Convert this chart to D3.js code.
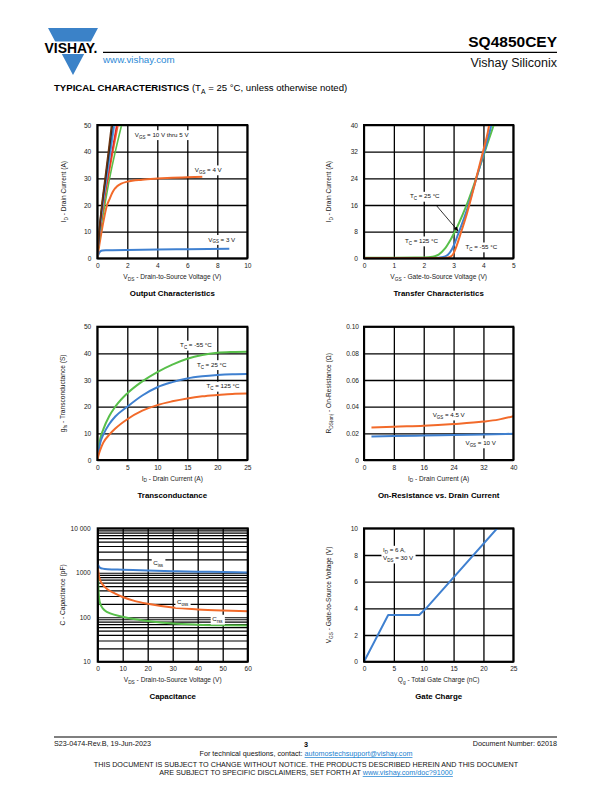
<!DOCTYPE html>
<html><head><meta charset="utf-8">
<script src="https://cdn.jsdelivr.net/npm/d3@7"></script>
<style>
body{margin:0;background:#fff}
svg{display:block}
text{font-family:"Liberation Sans",Arial,Helvetica,sans-serif}
</style>
</head><body>
<svg id="c" width="612" height="792"></svg>
<script>
// ---------------- DATA ----------------
// Output characteristics (VDS [V], ID [A])
const outXTicks=[0,2,4,6,8,10];
const outYTicks=[0,10,20,30,40,50];
const outVgs10=[[0,0],[0.12,10],[0.3,20],[0.52,30],[0.74,40],[0.95,50]];
const outVgs9=[[0,0],[0.13,10],[0.32,20],[0.55,30],[0.78,40],[1.0,50]];
const outVgs8=[[0,0],[0.14,10],[0.35,20],[0.6,30],[0.85,40],[1.1,50]];
const outVgs7=[[0,0],[0.15,10],[0.37,20],[0.62,30],[0.89,40],[1.15,50]];
const outVgs6=[[0,0],[0.17,10],[0.4,20],[0.68,30],[0.98,40],[1.3,50]];
const outVgs55=[[0,0],[0.18,10],[0.42,20],[0.72,30],[1.04,40],[1.38,50]];
const outVgs5=[[0,0],[0.2,10],[0.5,20],[0.82,30],[1.2,40],[1.62,50]];
const outVgs4=[[0,0],[0.15,5.5],[0.3,10.5],[0.45,15],[0.62,19.4],[0.84,22.5],[1.0,24.6],[1.15,26],[1.3,26.9],[1.6,28],[2,28.75],[3,29.5],[4,29.9],[5,30.2],[6,30.4],[7,30.6]];
const outVgs3=[[0,0],[0.05,1],[0.12,2],[0.2,2.6],[0.35,2.9],[0.6,3.0],[1,3.05],[2,3.15],[4,3.3],[6,3.4],[8.8,3.55]];

// Transfer characteristics (VGS [V], ID [A])
const trXTicks=[0,1,2,3,4,5];
const trYTicks=[0,8,16,24,32,40];
const trT125=[[0,0.2],[1,0.2],[2,0.25],[2.3,0.5],[2.5,1.1],[2.7,2.8],[2.9,5.6],[3.1,9],[3.3,13],[3.5,17.5],[3.7,22.5],[3.9,28],[4.1,33.5],[4.3,38.8],[4.36,40.5]];
const trT25=[[0,0.1],[2.4,0.1],[2.6,0.3],[2.8,1],[2.95,2.8],[3.05,4.8],[3.15,7.2],[3.3,10.8],[3.5,16],[3.7,22],[3.9,28.2],[4.1,34.3],[4.28,40.5]];
const trTm55=[[0,0.1],[2.7,0.1],[2.85,0.3],[2.97,1],[3.05,2.5],[3.15,5],[3.25,7.8],[3.4,12],[3.6,18.5],[3.8,25.5],[4.0,32.5],[4.15,38],[4.2,40.5]];

// Transconductance (ID [A], gfs [S])
const gfXTicks=[0,5,10,15,20,25];
const gfYTicks=[0,10,20,30,40,50];
const gfTm55=[[0,0],[0.2,4],[0.5,8],[1,11.5],[2,16.5],[3,20],[5,25],[7.5,29.5],[10,33],[12.5,35.8],[15,38],[17.5,39.4],[20,40.2],[22.5,40.5],[25,40.6]];
const gfT25=[[0,0],[0.2,3],[0.5,6.5],[1,9.5],[2,13.5],[3,16.3],[5,20],[7.5,24.2],[10,27.3],[12.5,29.2],[15,30.6],[17.5,31.4],[20,31.9],[22.5,32.2],[25,32.3]];
const gfT125=[[0,0],[0.3,2.5],[0.7,5],[1,6.5],[2,9.5],[3,11.8],[5,15.3],[7.5,18.5],[10,20.6],[12.5,22],[15,23.1],[17.5,23.9],[20,24.4],[22.5,24.8],[25,24.9]];

// On-resistance (ID [A], RDS(on) [ohm])
const ronXTicks=[0,8,16,24,32,40];
const ronYTicks=[0,0.02,0.04,0.06,0.08,0.10];
const ronYTickLabels=["0","0.02","0.04","0.06","0.08","0.10"];
const ronVgs45=[[2,0.0243],[8,0.025],[16,0.0257],[24,0.027],[32,0.0288],[36,0.0303],[40,0.0328]];
const ronVgs10=[[2,0.0176],[8,0.018],[16,0.0183],[24,0.0187],[32,0.0191],[40,0.0197]];

// Capacitance (VDS [V], C [pF])
const capXTicks=[0,10,20,30,40,50,60];
const capYTicks=[10,100,1000,10000];
const capYTickLabels=["10","100","1000","10 000"];
const capCiss=[[0.1,1550],[0.5,1380],[1,1290],[2,1240],[4,1200],[10,1170],[20,1120],[30,1085],[40,1060],[50,1040],[60,1015]];
const capCoss=[[0.1,1250],[0.5,850],[1,680],[2,540],[4,420],[7,340],[10,285],[15,230],[20,200],[30,165],[40,150],[50,142],[60,137]];
const capCrss=[[0.1,800],[0.4,330],[0.8,220],[1.5,175],[3,140],[5,122],[10,103],[15,90],[20,82],[30,72],[40,68],[50,66],[60,65]];

// Gate charge (Qg [nC], VGS [V])
const qgXTicks=[0,5,10,15,20,25];
const qgYTicks=[0,2,4,6,8,10];
const qgCurve=[[0,0],[4.05,3.5],[9.25,3.5],[10.4,4.0],[22.3,10]];

// ---------------- DRAWING ----------------
const ORANGE="#f26a2a", BLUE="#3f80d0", GREEN="#58bf4a";
const svg=d3.select("#c");

function rich(t,s,fs){
  const parts=s.split(/(\{[^}]*\})/).filter(p=>p);
  let sub=false;
  parts.forEach(p=>{
    if(p[0]==="{"){t.append("tspan").attr("font-size",fs*0.72).attr("dy",fs*0.3).text(p.slice(1,-1));sub=true;}
    else{const ts=t.append("tspan").text(p);if(sub){ts.attr("dy",-fs*0.3);sub=false;}}
  });
  return t;
}

let clipId=0;
function chart(o){
  const g=svg.append("g");
  const x=d3.scaleLinear().domain(o.xDomain).range([o.l,o.r]);
  const y=(o.log?d3.scaleLog():d3.scaleLinear()).domain(o.yDomain).range([o.b,o.t]);
  const h=o.b-o.t, w=o.r-o.l;
  // grid
  g.append("g").attr("transform",`translate(0,${o.b})`)
    .call(d3.axisBottom(x).tickValues(o.xTicks).tickSize(-h).tickFormat(""))
    .call(s=>{s.select(".domain").remove();s.selectAll("line").attr("stroke","#000").attr("stroke-width",1.3);});
  g.append("g").attr("transform",`translate(${o.l},0)`)
    .call(d3.axisLeft(y).tickValues(o.yGrid||o.yTicks).tickSize(-w).tickFormat(""))
    .call(s=>{s.select(".domain").remove();s.selectAll("line").attr("stroke","#000").attr("stroke-width",o.log?1.2:1.3);});
  // curves
  const id="clip"+(clipId++);
  g.append("clipPath").attr("id",id).append("rect").attr("x",o.l).attr("y",o.t).attr("width",w).attr("height",h);
  const line=d3.line().x(d=>x(d[0])).y(d=>y(d[1])).curve(o.linear?d3.curveLinear:d3.curveMonotoneX);
  const cg=g.append("g").attr("clip-path",`url(#${id})`);
  o.series.forEach(s=>{
    cg.append("path").datum(s.data).attr("d",line).attr("fill","none")
      .attr("stroke",s.color).attr("stroke-width",s.width||2).attr("stroke-linejoin","round");
  });
  // border
  g.append("rect").attr("x",o.l).attr("y",o.t).attr("width",w).attr("height",h)
    .attr("fill","none").attr("stroke","#000").attr("stroke-width",2);
  // tick labels
  const fs=6.6;
  g.append("g").attr("transform",`translate(0,${o.b})`)
    .call(d3.axisBottom(x).tickValues(o.xTicks).tickSize(0).tickPadding(5).tickFormat((d,i)=>o.xTickLabels?o.xTickLabels[i]:d))
    .call(s=>{s.select(".domain").remove();s.selectAll("text").attr("font-size",fs).attr("font-family","Liberation Sans, Arial, sans-serif").attr("fill","#222");});
  g.append("g").attr("transform",`translate(${o.l},0)`)
    .call(d3.axisLeft(y).tickValues(o.yTicks).tickSize(0).tickPadding(o.yPad||6).tickFormat((d,i)=>o.yTickLabels?o.yTickLabels[i]:d))
    .call(s=>{s.select(".domain").remove();s.selectAll("text").attr("font-size",fs).attr("font-family","Liberation Sans, Arial, sans-serif").attr("fill","#222");});
  // axis titles
  rich(g.append("text").attr("x",(o.l+o.r)/2).attr("y",o.b+20.5).attr("text-anchor","middle").attr("font-size",6.6).attr("fill","#222"),o.xLabel,6.6);
  rich(g.append("text").attr("transform",`translate(${o.l-o.yLabelOff},${(o.t+o.b)/2}) rotate(-90)`).attr("text-anchor","middle").attr("font-size",6.6).attr("fill","#222"),o.yLabel,6.6);
  g.append("text").attr("x",(o.l+o.r)/2).attr("y",o.b+37.5).attr("text-anchor","middle")
    .attr("font-size",7.9).attr("font-weight","bold").attr("fill","#000").text(o.title);
  // annotations
  (o.notes||[]).forEach(n=>{
    const t=g.append("text").attr("x",x(n.x)).attr("y",y(n.y)).attr("font-size",6.2).attr("fill","#111");
    rich(t,n.text,6.2);
    if(n.bg!==false){
      const bb=t.node().getBBox();
      g.insert("rect",()=>t.node()).attr("x",bb.x-1.5).attr("y",bb.y-0.5).attr("width",bb.width+3).attr("height",bb.height+1).attr("fill","#fff");
    }
  });
  (o.arrows||[]).forEach(a=>{
    g.append("line").attr("x1",x(a.x1)).attr("y1",y(a.y1)).attr("x2",x(a.x2)).attr("y2",y(a.y2))
      .attr("stroke","#000").attr("stroke-width",0.8).attr("marker-end","url(#arr)");
  });
  return {x,y};
}

svg.append("defs").append("marker").attr("id","arr").attr("viewBox","0 0 10 10").attr("refX",9).attr("refY",5)
  .attr("markerWidth",6).attr("markerHeight",6).attr("orient","auto")
  .append("path").attr("d","M0,1 L10,5 L0,9 z").attr("fill","#000");

// ---------- Header ----------
svg.append("polygon").attr("points","48,28 98,28 73,75").attr("fill","#3b82c8");
svg.append("rect").attr("x",44).attr("y",41.5).attr("width",58).attr("height",12.5).attr("fill","#fff");
svg.append("text").attr("x",44.5).attr("y",53).attr("font-size",14).attr("font-weight","bold")
  .attr("textLength",53).attr("lengthAdjust","spacingAndGlyphs").attr("fill","#000").text("VISHAY.");
svg.append("line").attr("x1",103).attr("x2",557).attr("y1",52.3).attr("y2",52.3).attr("stroke","#000").attr("stroke-width",1.2);
svg.append("text").attr("x",557).attr("y",47).attr("text-anchor","end").attr("font-size",15.5).attr("font-weight","bold").text("SQ4850CEY");
svg.append("text").attr("x",557).attr("y",66.5).attr("text-anchor","end").attr("font-size",12.5).attr("fill","#111").text("Vishay Siliconix");
svg.append("text").attr("x",103).attr("y",63).attr("font-size",9.8).attr("fill","#2b8ad6").text("www.vishay.com");
const th=svg.append("text").attr("x",54).attr("y",91).attr("font-size",9.6).attr("fill","#000");
th.append("tspan").attr("font-weight","bold").text("TYPICAL CHARACTERISTICS ");
th.append("tspan").text("(T");
th.append("tspan").attr("font-size",6.8).attr("dy",2.5).text("A");
th.append("tspan").attr("dy",-2.5).text(" = 25 °C, unless otherwise noted)");

// ---------- Charts ----------
chart({l:97.3,r:247.3,t:125,b:258.3,xDomain:[0,10],yDomain:[0,50],xTicks:outXTicks,yTicks:outYTicks,
  xLabel:"V{DS} - Drain-to-Source Voltage (V)",yLabel:"I{D} - Drain Current (A)",yLabelOff:31,
  title:"Output Characteristics",
  series:[
    {data:outVgs3,color:BLUE},
    {data:outVgs4,color:ORANGE},
    {data:outVgs5,color:GREEN,width:1.6},
    {data:outVgs55,color:ORANGE,width:1.6},
    {data:outVgs6,color:"#e4262b",width:1.6},
    {data:outVgs7,color:"#62b8e6",width:1.6},
    {data:outVgs8,color:BLUE,width:1.6},
    {data:outVgs9,color:"#1a1a1a",width:1.6},
    {data:outVgs10,color:"#6b3410",width:1.6}],
  notes:[{x:2.5,y:45.6,text:"V{GS} = 10 V thru 5 V"},{x:6.5,y:32.4,text:"V{GS} = 4 V"},{x:7.4,y:6.3,text:"V{GS} = 3 V"}]});

chart({l:364,r:513.3,t:125,b:258.3,xDomain:[0,5],yDomain:[0,40],xTicks:trXTicks,yTicks:trYTicks,
  xLabel:"V{GS} - Gate-to-Source Voltage (V)",yLabel:"I{D} - Drain Current (A)",yLabelOff:33,
  title:"Transfer Characteristics",
  series:[{data:trT125,color:GREEN},{data:trT25,color:BLUE},{data:trTm55,color:ORANGE}],
  notes:[{x:1.54,y:18.0,text:"T{C} = 25 °C"},{x:1.37,y:4.6,text:"T{C} = 125 °C"},{x:3.4,y:2.8,text:"T{C} = -55 °C"}],
  arrows:[{x1:2.42,y1:15.9,x2:3.15,y2:8.2}]});

chart({l:97.3,r:247.3,t:326.7,b:460,xDomain:[0,25],yDomain:[0,50],xTicks:gfXTicks,yTicks:gfYTicks,
  xLabel:"I{D} - Drain Current (A)",yLabel:"g{fs} - Transconductance (S)",yLabelOff:32,
  title:"Transconductance",
  series:[{data:gfTm55,color:GREEN},{data:gfT25,color:BLUE},{data:gfT125,color:ORANGE}],
  notes:[{x:13.8,y:42.3,text:"T{C} = -55 °C"},{x:16.6,y:35.0,text:"T{C} = 25 °C"},{x:18.2,y:26.9,text:"T{C} = 125 °C"}]});

chart({l:364,r:513.3,t:326.7,b:460,xDomain:[0,40],yDomain:[0,0.1],xTicks:ronXTicks,yTicks:ronYTicks,yTickLabels:ronYTickLabels,yPad:5,
  xLabel:"I{D} - Drain Current (A)",yLabel:"R{DS(on)} - On-Resistance (Ω)",yLabelOff:33,
  title:"On-Resistance vs. Drain Current",
  series:[{data:ronVgs45,color:ORANGE},{data:ronVgs10,color:BLUE}],
  notes:[{x:18.4,y:0.0322,text:"V{GS} = 4.5 V"},{x:27.2,y:0.0113,text:"V{GS} = 10 V"}]});

chart({l:97.7,r:247.7,t:528.3,b:661.7,xDomain:[0,60],yDomain:[10,10000],log:true,
  xTicks:capXTicks,yTicks:capYTicks,yTickLabels:capYTickLabels,yPad:7,
  yGrid:d3.range(1,4).flatMap(e=>d3.range(1,10).map(m=>m*Math.pow(10,e))).concat([10000]),
  xLabel:"V{DS} - Drain-to-Source Voltage (V)",yLabel:"C - Capacitance (pF)",yLabelOff:33,
  title:"Capacitance",
  series:[{data:capCrss,color:GREEN},{data:capCoss,color:ORANGE},{data:capCiss,color:BLUE}],
  notes:[{x:22.2,y:1480,text:"C{iss}"},{x:31.7,y:196,text:"C{oss}"},{x:45.8,y:81,text:"C{rss}"}]});

chart({l:364,r:513.3,t:528.3,b:661.7,xDomain:[0,25],yDomain:[0,10],xTicks:qgXTicks,yTicks:qgYTicks,linear:true,
  xLabel:"Q{g} - Total Gate Charge (nC)",yLabel:"V{GS} - Gate-to-Source Voltage (V)",yLabelOff:33,
  title:"Gate Charge",
  series:[{data:qgCurve,color:BLUE}],
  notes:[{x:3.2,y:8.2,text:"I{D} = 6 A,"},{x:3.2,y:7.62,text:"V{DS} = 30 V"}]});

// ---------- Footer ----------
svg.append("line").attr("x1",54).attr("x2",557).attr("y1",737).attr("y2",737).attr("stroke","#000").attr("stroke-width",1.2);
const ff=7.2;
svg.append("text").attr("x",54).attr("y",745.5).attr("font-size",ff).attr("fill","#111").text("S23-0474-Rev.B, 19-Jun-2023");
svg.append("text").attr("x",306).attr("y",746.5).attr("text-anchor","middle").attr("font-size",ff).attr("font-weight","bold").text("3");
svg.append("text").attr("x",557).attr("y",745.5).attr("text-anchor","end").attr("font-size",ff).attr("fill","#111").text("Document Number: 62018");
const f2=svg.append("text").attr("x",306).attr("y",756).attr("text-anchor","middle").attr("font-size",ff).attr("fill","#111");
f2.append("tspan").text("For technical questions, contact: ");
f2.append("tspan").attr("fill","#1a7fd0").attr("text-decoration","underline").text("automostechsupport@vishay.com");
svg.append("text").attr("x",306).attr("y",766.5).attr("text-anchor","middle").attr("font-size",ff).attr("fill","#111")
  .text("THIS DOCUMENT IS SUBJECT TO CHANGE WITHOUT NOTICE. THE PRODUCTS DESCRIBED HEREIN AND THIS DOCUMENT");
const f4=svg.append("text").attr("x",306).attr("y",775).attr("text-anchor","middle").attr("font-size",ff).attr("fill","#111");
f4.append("tspan").text("ARE SUBJECT TO SPECIFIC DISCLAIMERS, SET FORTH AT ");
f4.append("tspan").attr("fill","#1a7fd0").attr("text-decoration","underline").text("www.vishay.com/doc?91000");
</script>
</body></html>
